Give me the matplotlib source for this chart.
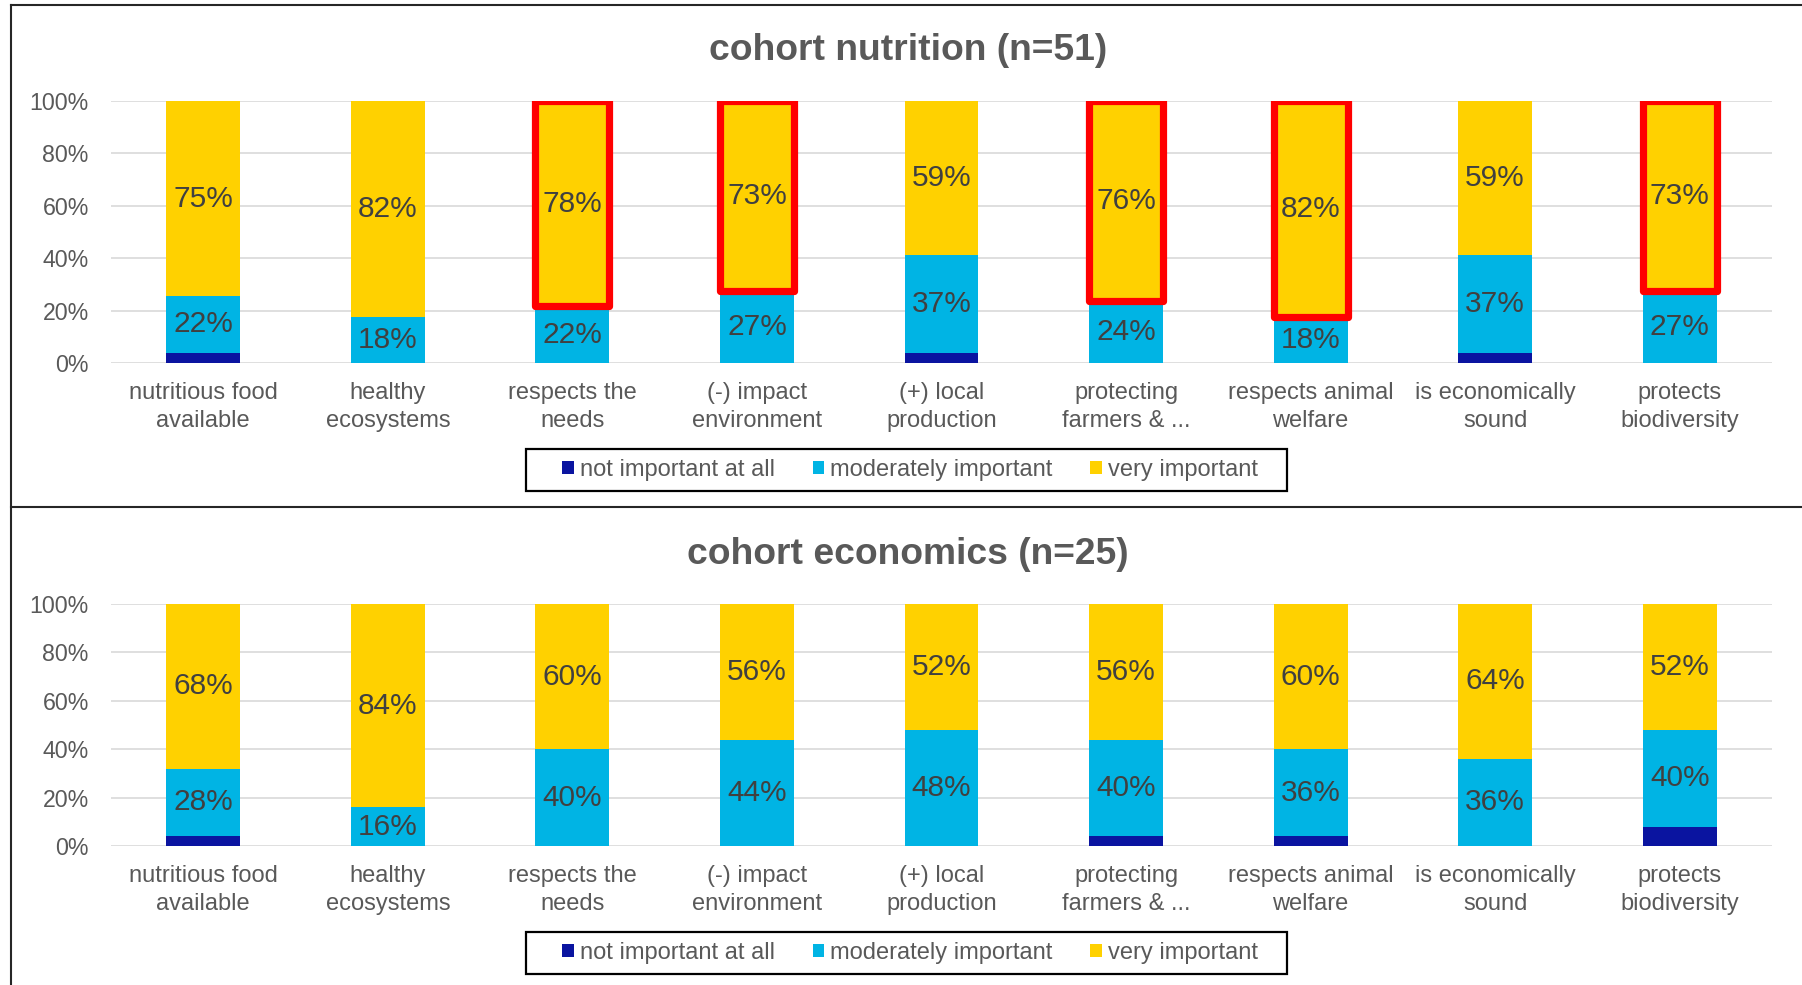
import matplotlib
matplotlib.use("Agg")
import matplotlib.pyplot as plt
from matplotlib.patches import Rectangle, Patch
from matplotlib.lines import Line2D

plt.rcParams['font.family'] = ['Liberation Sans', 'DejaVu Sans']

categories = ["nutritious food\navailable", "healthy\necosystems", "respects the\nneeds",
              "(-) impact\nenvironment", "(+) local\nproduction", "protecting\nfarmers & ...",
              "respects animal\nwelfare", "is economically\nsound", "protects\nbiodiversity"]
series_names = ["not important at all", "moderately important", "very important"]

# cohort nutrition (n=51), percentages
nut_not = [3.92, 0, 0, 0, 3.92, 0, 0, 3.92, 0]
nut_mod = [21.57, 17.65, 21.57, 27.45, 37.25, 23.53, 17.65, 37.25, 27.45]
nut_very = [74.51, 82.35, 78.43, 72.55, 58.82, 76.47, 82.35, 58.82, 72.55]
nut_highlight = [False, False, True, True, False, True, True, False, True]

# cohort economics (n=25), percentages
eco_not = [4, 0, 0, 0, 0, 4, 4, 0, 8]
eco_mod = [28, 16, 40, 44, 48, 40, 36, 36, 40]
eco_very = [68, 84, 60, 56, 52, 56, 60, 64, 52]
eco_highlight = [False] * 9

titles = ["cohort nutrition (n=51)", "cohort economics (n=25)"]
yticks = [0, 20, 40, 60, 80, 100]
ytick_labels = ["0%", "20%", "40%", "60%", "80%", "100%"]

colors = ["#0A14A0", "#00B4E4", "#FFD100"]
TXT = "#595959"
LBL = "#404040"

W, H = 1802, 985
fig = plt.figure(figsize=(W / 100, H / 100), dpi=100)

def px_rect(x0, y0, x1, y1):
    return [x0 / W, 1 - y1 / H, (x1 - x0) / W, (y1 - y0) / H]

panels = [
    dict(data=(nut_not, nut_mod, nut_very), hl=nut_highlight, title=titles[0],
         ax=px_rect(111, 101, 1772, 363), title_y=51, legend=(526, 449, 1287, 491)),
    dict(data=(eco_not, eco_mod, eco_very), hl=eco_highlight, title=titles[1],
         ax=px_rect(111, 604, 1772, 846), title_y=554, legend=(526, 932, 1287, 974)),
]

bw = 0.4
for p in panels:
    ax = fig.add_axes(p["ax"])
    x = list(range(len(categories)))
    bottom = [0] * len(categories)
    for s, vals in enumerate(p["data"]):
        ax.bar(x, vals, width=bw, bottom=bottom, color=colors[s], zorder=2, linewidth=0)
        if s > 0:
            for i, v in enumerate(vals):
                if v > 0:
                    ax.text(i, bottom[i] + v / 2, f"{v:.0f}%", ha="center", va="center",
                            fontsize=21.5, color=LBL, zorder=4)
        bottom = [b + v for b, v in zip(bottom, vals)]
    # red highlight outlines around 'very important' segments
    for i, h in enumerate(p["hl"]):
        if h:
            b0 = p["data"][0][i] + p["data"][1][i]
            ax.add_patch(Rectangle((i - bw / 2, b0), bw, p["data"][2][i], fill=False,
                                   edgecolor="#FF0000", linewidth=5.2, joinstyle="round",
                                   zorder=3))
    ax.set_xlim(-0.5, len(categories) - 0.5)
    ax.set_ylim(0, 100)
    ax.set_yticks(yticks)
    ax.set_yticklabels(ytick_labels)
    ax.set_xticks(x)
    ax.set_xticklabels(categories, linespacing=1.38)
    ax.tick_params(axis="y", length=0, pad=16, labelsize=16.7, labelcolor=TXT)
    ax.tick_params(axis="x", length=0, pad=13.5, labelsize=17, labelcolor=TXT)
    for sp in ax.spines.values():
        sp.set_visible(False)
    ax.grid(axis="y", color="#D9D9D9", linewidth=1.2, zorder=0)
    ax.set_axisbelow(True)

    fig.text(908 / W, 1 - p["title_y"] / H, p["title"], ha="center", va="center",
             fontsize=26.8, fontweight="bold", color=TXT)

    lx0, ly0, lx1, ly1 = p["legend"]
    fig.patches.append(Rectangle((lx0 / W, 1 - ly1 / H), (lx1 - lx0) / W, (ly1 - ly0) / H,
                                 transform=fig.transFigure, fill=False,
                                 edgecolor="black", linewidth=1.6))
    handles = [Patch(facecolor=c, edgecolor="none") for c in colors]
    fig.legend(handles, series_names, loc="center",
               bbox_to_anchor=((lx0 + lx1) / 2 / W + 0.002, 1 - (ly0 + ly1) / 2 / H),
               ncol=3, frameon=False, fontsize=17, labelcolor=TXT,
               handlelength=0.5, handleheight=0.5, handletextpad=0.25,
               columnspacing=1.6, borderaxespad=0)

# chart frames
lc = "#262626"
lw = 1.5
def fline(x0, y0, x1, y1):
    fig.add_artist(Line2D([x0 / W, x1 / W], [1 - y0 / H, 1 - y1 / H],
                          transform=fig.transFigure, color=lc, linewidth=lw))
fline(11, 5, W, 5)
fline(11, 5, 11, H)
fline(11, 507, W, 507)

fig.savefig("out.png", dpi=100)
